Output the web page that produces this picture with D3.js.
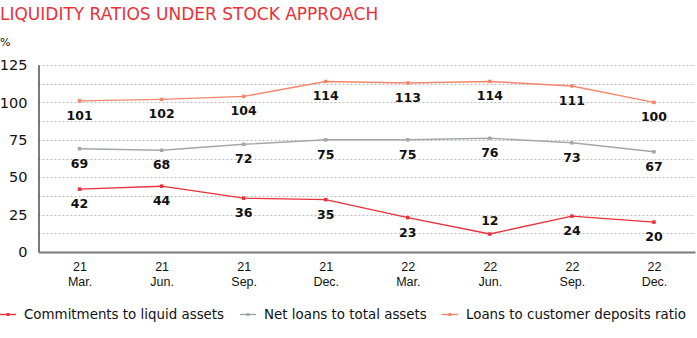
<!DOCTYPE html>
<html>
<head>
<meta charset="utf-8">
<script src="https://cdn.jsdelivr.net/npm/d3@7"></script>
<style>
  html, body { margin: 0; padding: 0; background: #fff; }
  svg { display: block; font-family: "DejaVu Sans", sans-serif; }
</style>
</head>
<body>
<svg id="chart" width="697" height="338"></svg>
<script>
// Quarter labels (year, month)
const years = ["21", "21", "21", "21", "22", "22", "22", "22"];
const months = ["Mar.", "Jun.", "Sep.", "Dec.", "Mar.", "Jun.", "Sep.", "Dec."];

// Ratio series, in %
const commitments = [42, 44, 36, 35, 23, 12, 24, 20];
const netLoans = [69, 68, 72, 75, 75, 76, 73, 67];
const loansToDeposits = [101, 102, 104, 114, 113, 114, 111, 100];

const seriesNames = ["Commitments to liquid assets", "Net loans to total assets", "Loans to customer deposits ratio"];
const seriesColors = ["#e8313b", "#a3a7ab", "#f3866c"];
const yTicks = [0, 25, 50, 75, 100, 125];
const gridValues = [12.5, 25, 37.5, 50, 62.5, 75, 87.5, 100, 112.5, 125];

// Labels drawn above the point instead of below (index per series)
const labelAbove = [[5], [], []];

const svg = d3.select("#chart");
const plot = { left: 38.5, right: 695, top: 65, bottom: 252 };

const x = d3.scalePoint()
  .domain(d3.range(years.length))
  .range([plot.left, plot.right])
  .padding(0.5);
const y = d3.scaleLinear().domain([0, 125]).range([plot.bottom, plot.top]);

// Title and unit
svg.append("text")
  .attr("x", 0).attr("y", 20)
  .attr("fill", "#e8313b")
  .style("font-size", "17px")
  .text("LIQUIDITY RATIOS UNDER STOCK APPROACH");
svg.append("text")
  .attr("x", 0).attr("y", 46)
  .attr("fill", "#111")
  .style("font-size", "11px")
  .text("%");

// Dotted gridlines
svg.append("g")
  .selectAll("line")
  .data(gridValues)
  .join("line")
  .attr("x1", plot.left).attr("x2", plot.right)
  .attr("y1", d => Math.round(y(d)) + 0.5).attr("y2", d => Math.round(y(d)) + 0.5)
  .attr("stroke", "#bdbdbd")
  .attr("stroke-width", 1)
  .attr("stroke-dasharray", "2,2");

// Y axis
const yAxis = svg.append("g")
  .attr("transform", `translate(${plot.left},0)`)
  .call(d3.axisLeft(y).tickValues(yTicks).tickSize(0).tickPadding(11));
yAxis.select(".domain").attr("stroke", "#222").attr("stroke-width", 1.2);
yAxis.selectAll("text")
  .style("font-family", "DejaVu Sans, sans-serif")
  .style("font-size", "14.5px")
  .attr("fill", "#111");

// X axis
const xAxis = svg.append("g")
  .attr("transform", `translate(0,${plot.bottom})`)
  .call(d3.axisBottom(x).tickSize(0).tickFormat(() => ""));
xAxis.select(".domain").attr("stroke", "#777").attr("stroke-width", 2);
xAxis.selectAll(".tick text").remove();
const tickG = xAxis.selectAll(".tick");
tickG.append("text")
  .attr("y", 19).attr("text-anchor", "middle")
  .attr("fill", "#111")
  .style("font-size", "12.5px")
  .text((d, i) => years[i]);
tickG.append("text")
  .attr("y", 34).attr("text-anchor", "middle")
  .attr("fill", "#111")
  .style("font-size", "12.5px")
  .text((d, i) => months[i]);

// Lines, markers and value labels
const allSeries = [commitments, netLoans, loansToDeposits];
const line = d3.line().x((d, i) => x(i)).y(d => y(d));

allSeries.forEach((vals, s) => {
  const g = svg.append("g");
  g.append("path")
    .datum(vals)
    .attr("d", line)
    .attr("fill", "none")
    .attr("stroke", seriesColors[s])
    .attr("stroke-width", 1.4);
  g.selectAll("rect.mark")
    .data(vals)
    .join("rect")
    .attr("class", "mark")
    .attr("x", (d, i) => x(i) - 1.75).attr("y", d => y(d) - 1.75)
    .attr("width", 3.5).attr("height", 3.5)
    .attr("fill", seriesColors[s]);
  g.selectAll("text")
    .data(vals)
    .join("text")
    .attr("x", (d, i) => x(i))
    .attr("y", (d, i) => labelAbove[s].includes(i) ? y(d) - 9 : y(d) + 19)
    .attr("text-anchor", "middle")
    .attr("fill", "#111")
    .style("font-size", "12.5px")
    .style("font-weight", "bold")
    .text(d => d);
});

// Legend
const legendX = [0, 240, 442];
const legend = svg.append("g").attr("transform", "translate(0,314)");
seriesNames.forEach((name, s) => {
  const lg = legend.append("g").attr("transform", `translate(${legendX[s]},0)`);
  lg.append("line")
    .attr("x1", 0).attr("x2", 16).attr("y1", 0.5).attr("y2", 0.5)
    .attr("stroke", seriesColors[s]).attr("stroke-width", 1.4);
  lg.append("rect")
    .attr("x", 6.5).attr("y", -1).attr("width", 3).attr("height", 3)
    .attr("fill", seriesColors[s]);
  lg.append("text")
    .attr("x", 24).attr("y", 5)
    .attr("fill", "#111")
    .style("font-size", "13.4px")
    .text(name);
});
</script>
</body>
</html>
